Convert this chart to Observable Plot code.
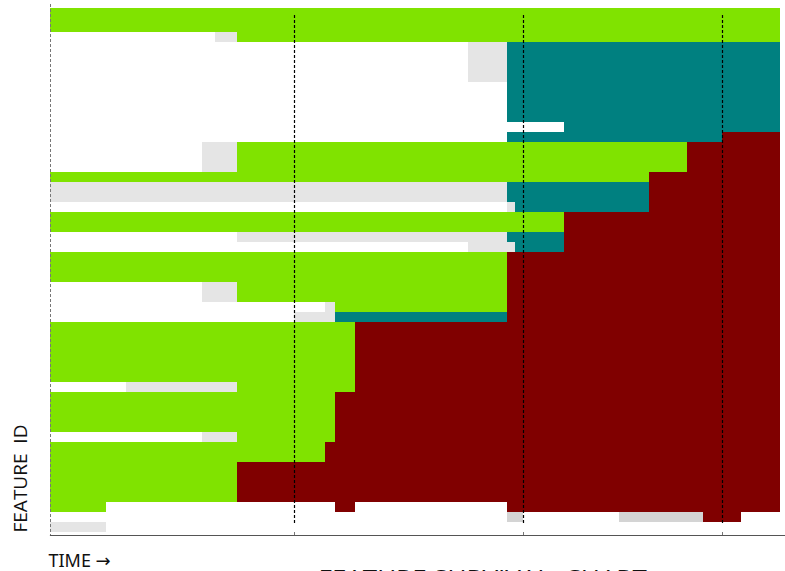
<!DOCTYPE html>
<html>
<head>
<meta charset="utf-8">
<script src="https://cdn.jsdelivr.net/npm/d3@7"></script>
<script src="https://cdn.jsdelivr.net/npm/@observablehq/plot@0.6"></script>
<style>
  html, body { margin: 0; padding: 0; background: #fff; }
  svg text { white-space: pre; }
</style>
</head>
<body>
<div id="chart"></div>
<script>
// Feature states and their colours
const stateKeys = ["G", "T", "R", "g", "d"];
const stateColors = ["#80e300", "#008080", "#800000", "#e5e5e5", "#d4d4d4"];

// Release markers (time)
const releases = [244, 473, 672];

// Segments: [fromRow, toRow, startTime, endTime, state]; rows counted from the bottom
const segments = [
  [50, 52, 0, 730, "G"],
  [49, 49, 165, 187, "g"], [49, 49, 187, 730, "G"],
  [45, 48, 418, 457, "g"], [45, 48, 457, 730, "T"],
  [41, 44, 457, 730, "T"],
  [40, 40, 514, 730, "T"],
  [39, 39, 457, 672, "T"], [39, 39, 672, 730, "R"],
  [36, 38, 152, 187, "g"], [36, 38, 187, 637, "G"], [36, 38, 637, 730, "R"],
  [35, 35, 0, 599, "G"], [35, 35, 599, 730, "R"],
  [33, 34, 0, 457, "g"], [33, 34, 457, 599, "T"], [33, 34, 599, 730, "R"],
  [32, 32, 457, 465, "g"], [32, 32, 465, 599, "T"], [32, 32, 599, 730, "R"],
  [30, 31, 0, 514, "G"], [30, 31, 514, 730, "R"],
  [29, 29, 187, 457, "g"], [29, 29, 457, 514, "T"], [29, 29, 514, 730, "R"],
  [28, 28, 418, 465, "g"], [28, 28, 465, 514, "T"], [28, 28, 514, 730, "R"],
  [25, 27, 0, 457, "G"], [25, 27, 457, 730, "R"],
  [23, 24, 152, 187, "g"], [23, 24, 187, 457, "G"], [23, 24, 457, 730, "R"],
  [22, 22, 275, 285, "g"], [22, 22, 285, 457, "G"], [22, 22, 457, 730, "R"],
  [21, 21, 244, 285, "g"], [21, 21, 285, 457, "T"], [21, 21, 457, 730, "R"],
  [15, 20, 0, 305, "G"], [15, 20, 305, 730, "R"],
  [14, 14, 76, 187, "g"], [14, 14, 187, 305, "G"], [14, 14, 305, 730, "R"],
  [10, 13, 0, 285, "G"], [10, 13, 285, 730, "R"],
  [9, 9, 152, 187, "g"], [9, 9, 187, 285, "G"], [9, 9, 285, 730, "R"],
  [7, 8, 0, 275, "G"], [7, 8, 275, 730, "R"],
  [3, 6, 0, 187, "G"], [3, 6, 187, 730, "R"],
  [2, 2, 0, 56, "G"], [2, 2, 285, 305, "R"], [2, 2, 457, 730, "R"],
  [1, 1, 457, 473, "d"], [1, 1, 569, 653, "d"], [1, 1, 653, 691, "R"],
  [0, 0, 0, 56, "g"]
];

const yLabel = "FEATURE  ID";
const xLabel = "TIME \u2192";
const title = "FEATURE SURVIVAL  CHART";

const chart = Plot.plot({
  width: 785,
  height: 571,
  marginLeft: 50,
  marginRight: 0,
  marginTop: 8,
  marginBottom: 36,
  style: { background: "#fff", fontFamily: "'Open Sans', sans-serif" },
  x: { domain: [0, 735], axis: null },
  y: { domain: [-0.3, 52.4], axis: null },
  color: { domain: stateKeys, range: stateColors },
  marks: [
    Plot.rect(segments, {
      x1: d => d[2], x2: d => d[3],
      y1: d => d[0], y2: d => d[1] + 1,
      fill: d => d[4],
      clip: true
    }),
    Plot.ruleX(releases, { stroke: "#000", strokeWidth: 1.2, strokeDasharray: "3,2", insetTop: 7, insetBottom: 10 }),
    Plot.ruleX([0], { stroke: "#777", strokeWidth: 1, strokeDasharray: "3,2", insetTop: -4 }),
    Plot.frame({ anchor: "bottom", stroke: "#555", strokeWidth: 1.2 }),
    Plot.axisX({ ticks: releases, tickSize: -3, tickFormat: () => "", label: null, stroke: "#777" }),
    Plot.text([yLabel], {
      frameAnchor: "bottom-left", rotate: -90, textAnchor: "start", lineAnchor: "top",
      dx: -37, dy: -3, fontSize: 19, fill: "#111"
    }),
    Plot.text([xLabel], {
      frameAnchor: "bottom-left", textAnchor: "start", lineAnchor: "top",
      dx: -2, dy: 19, fontSize: 18, fill: "#111", fontFamily: "'Noto Sans', 'DejaVu Sans', sans-serif"
    }),
    Plot.text([title], {
      frameAnchor: "bottom-left", textAnchor: "start", lineAnchor: "top",
      dx: 268, dy: 34, fontSize: 26, fill: "#111"
    })
  ]
});
document.getElementById("chart").appendChild(chart);
</script>
</body>
</html>
